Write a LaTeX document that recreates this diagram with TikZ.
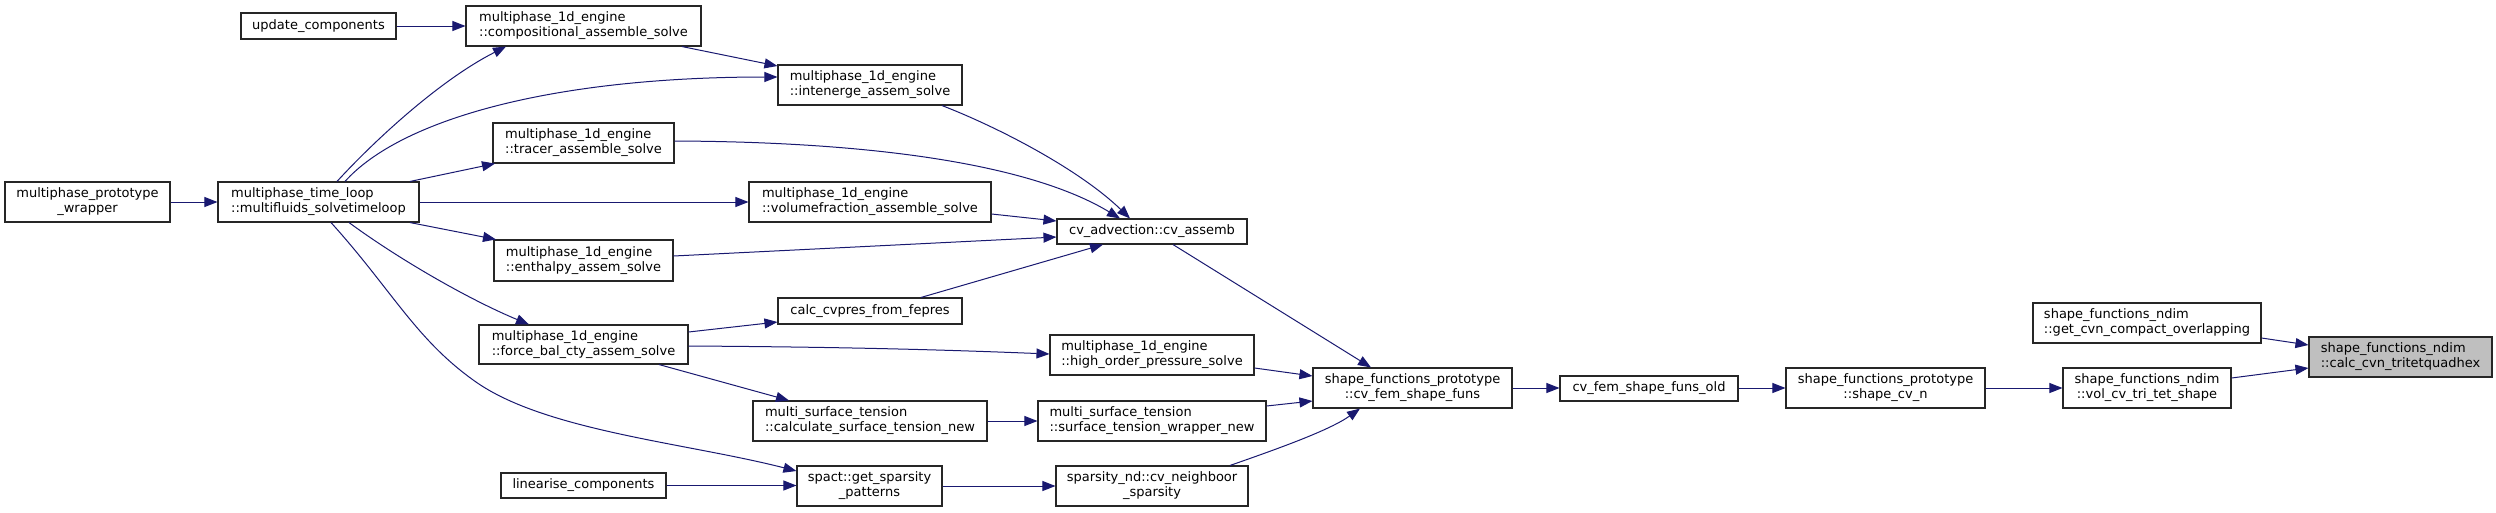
\documentclass[tikz,border=0pt]{standalone}
\usepackage{fontspec}
\setmainfont{DejaVu Sans}
\usetikzlibrary{arrows.meta}
\definecolor{mblue}{HTML}{191970}
\definecolor{rootgray}{HTML}{BFBFBF}
\tikzset{
  box/.style={draw=black!85, line width=1.1pt, fill=white, inner sep=0pt, text=black,
    font=\fontsize{13}{15}\selectfont},
  rootbox/.style={fill=rootgray},
  edge/.style={draw=mblue, line width=1pt, -{Triangle[length=13pt,width=10pt]}, color=mblue}
}
\newcommand\nb[8][]{\node[box,#1,align=#7,minimum width={#5-#3},minimum height={#6-#4}] (#2) at ({(#3+#5)/2},{(#4+#6)/2}) {#8};}
\begin{document}
\begin{tikzpicture}[x=1pt,y=-1pt]
\useasboundingbox (0,0) rectangle (2496,512);
% nodes
\nb{upd}{241}{13}{396}{39}{center}{update\_components}
\nb{comp}{466}{6}{701}{46}{left}{multiphase\_1d\_engine\\::compositional\_assemble\_solve}
\nb{inten}{778}{65}{962}{105}{left}{multiphase\_1d\_engine\\::intenerge\_assem\_solve}
\nb{tracer}{493}{123}{674}{163}{left}{multiphase\_1d\_engine\\::tracer\_assemble\_solve}
\nb{proto}{5}{182}{170}{222}{center}{multiphase\_prototype\\\_wrapper}
\nb{loop}{218}{182}{419}{222}{left}{multiphase\_time\_loop\\::multifluids\_solvetimeloop}
\nb{volf}{749}{182}{991}{222}{left}{multiphase\_1d\_engine\\::volumefraction\_assemble\_solve}
\nb{cva}{1057}{219}{1247}{244}{center}{cv\_advection::cv\_assemb}
\nb{enth}{494}{240}{673}{281}{left}{multiphase\_1d\_engine\\::enthalpy\_assem\_solve}
\nb{cvpres}{778}{298}{962}{324}{center}{calc\_cvpres\_from\_fepres}
\nb{force}{479}{325}{688}{364}{left}{multiphase\_1d\_engine\\::force\_bal\_cty\_assem\_solve}
\nb{hop}{1050}{335}{1254}{375}{left}{multiphase\_1d\_engine\\::high\_order\_pressure\_solve}
\nb{calcst}{753}{401}{987}{441}{left}{multi\_surface\_tension\\::calculate\_surface\_tension\_new}
\nb{stw}{1038}{401}{1266}{441}{left}{multi\_surface\_tension\\::surface\_tension\_wrapper\_new}
\nb{lin}{501}{473}{666}{498}{center}{linearise\_components}
\nb{spars}{797}{466}{942}{506}{center}{spact::get\_sparsity\\\_patterns}
\nb{neigh}{1056}{466}{1248}{506}{center}{sparsity\_nd::cv\_neighboor\\\_sparsity}
\nb{cvfem}{1313}{368}{1512}{408}{center}{shape\_functions\_prototype\\::cv\_fem\_shape\_funs}
\nb{old}{1560}{376}{1738}{401}{center}{cv\_fem\_shape\_funs\_old}
\nb{scvn}{1786}{368}{1985}{408}{center}{shape\_functions\_prototype\\::shape\_cv\_n}
\nb{getcvn}{2033}{303}{2261}{343}{left}{shape\_functions\_ndim\\::get\_cvn\_compact\_overlapping}
\nb{volcv}{2063}{368}{2231}{408}{center}{shape\_functions\_ndim\\::vol\_cv\_tri\_tet\_shape}
\nb[rootbox]{calccvn}{2309}{337}{2492}{377}{left}{shape\_functions\_ndim\\::calc\_cvn\_tritetquadhex}
% edges
\draw[edge] (upd.east) -- (comp.west);
\draw[edge] (682,0 |- comp.south) -- (inten.west |- 0,66);
\draw[edge] (337,0 |- loop.north) .. controls (375,140) and (440,80) .. (506,0 |- comp.south);
\draw[edge] (345,0 |- loop.north) .. controls (400,120) and (550,77) .. (inten.west |- 0,77);
\draw[edge] (410,0 |- loop.north) -- (495,0 |- tracer.south);
\draw[edge] (loop.east) -- (volf.west);
\draw[edge] (410,0 |- loop.south) -- (496,0 |- enth.north);
\draw[edge] (349,0 |- loop.south) .. controls (400,260) and (470,300) .. (529,0 |- force.north);
\draw[edge] (331,0 |- loop.south) .. controls (392,290) and (416,340) .. (476,382)
  .. controls (546,431) and (687,443) .. (spars.west |- 0,471);
\draw[edge] (proto.east) -- (loop.west);
\draw[edge] (942,0 |- inten.south) .. controls (1000,128) and (1080,170) .. (1130,0 |- cva.north);
\draw[edge] (tracer.east |- 0,141) .. controls (900,142) and (1040,170) .. (1120,0 |- cva.north);
\draw[edge] (volf.east |- 0,214) -- (cva.west |- 0,221);
\draw[edge] (enth.east |- 0,256) -- (cva.west |- 0,237);
\draw[edge] (921,0 |- cvpres.north) -- (1103,0 |- cva.south);
\draw[edge] (force.east |- 0,332) -- (cvpres.west |- 0,322);
\draw[edge] (force.east |- 0,346) .. controls (850,347) and (950,350) .. (hop.west |- 0,354);
\draw[edge] (659,0 |- force.south) -- (789,0 |- calcst.north);
\draw[edge] (calcst.east) -- (stw.west);
\draw[edge] (lin.east) -- (spars.west |- lin.east);
\draw[edge] (spars.east) -- (neigh.west);
\draw[edge] (1173,0 |- cva.south) -- (1371,0 |- cvfem.north);
\draw[edge] (hop.east |- 0,368) -- (cvfem.west |- 0,376);
\draw[edge] (stw.east |- 0,406) -- (cvfem.west |- 0,401);
\draw[edge] (1230,0 |- neigh.north) .. controls (1280,448) and (1330,430) .. (1360,0 |- cvfem.south);
\draw[edge] (cvfem.east) -- (old.west |- cvfem.east);
\draw[edge] (old.east |- cvfem.east) -- (scvn.west);
\draw[edge] (scvn.east) -- (volcv.west);
\draw[edge] (volcv.east |- 0,378) -- (calccvn.west |- 0,368);
\draw[edge] (getcvn.east |- 0,338) -- (calccvn.west |- 0,345);
\end{tikzpicture}
\end{document}
